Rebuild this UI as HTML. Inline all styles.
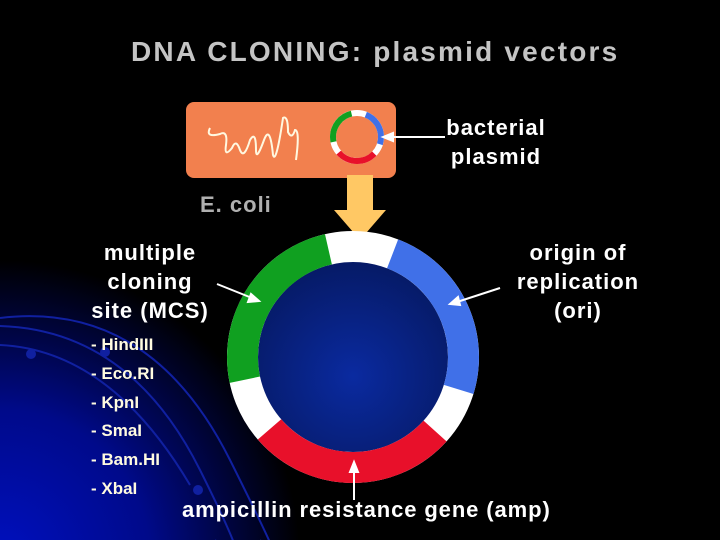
<!DOCTYPE html>
<html><head><style>
body{margin:0;background:#000;}
#c{position:relative;width:720px;height:540px;overflow:hidden;background:#000;font-family:"Liberation Sans",sans-serif;font-weight:bold;}
.t{position:absolute;white-space:nowrap;}
</style></head><body><div id="c">
<svg width="720" height="540" style="position:absolute;left:0;top:0">
<defs>
<radialGradient id="bg" cx="0" cy="560" r="300" gradientUnits="userSpaceOnUse">
<stop offset="0" stop-color="#0010c0"/><stop offset="0.5" stop-color="#000a8a"/><stop offset="1" stop-color="#000"/>
</radialGradient>
<radialGradient id="ic" cx="0.5" cy="0.6" r="0.6">
<stop offset="0" stop-color="#0a2aa0"/><stop offset="1" stop-color="#061a66"/>
</radialGradient>
</defs>
<rect width="720" height="540" fill="url(#bg)"/>
<g fill="none" stroke="#1020a0" stroke-width="2">
<path d="M0 318 Q150 300 230 460 T260 540"/>
<path d="M0 326 Q130 330 200 470 T215 540"/>
<path d="M0 345 Q110 350 190 485"/>
</g>
<g fill="#1020a0"><circle cx="31" cy="354" r="5"/><circle cx="105" cy="352" r="5"/><circle cx="198" cy="490" r="5"/></g>
<rect x="186" y="102" width="210" height="76" rx="8" fill="#f2804e"/>
<path d="M210 128 Q205 138 220 134 Q228 130 226 145 Q224 158 232 148 Q236 138 240 150 Q244 160 250 140 Q256 130 256 150 Q256 162 264 140 Q270 124 273 155 Q276 165 283 118 Q288 115 288 132 Q292 140 295 130 Q300 130 296 160" fill="none" stroke="#fff8e0" stroke-width="2"/>
<g transform="rotate(-90 357 137)" fill="none" stroke-width="6">
<circle cx="357" cy="137" r="24" stroke="#fff"/>
<circle cx="357" cy="137" r="24" stroke="#4070e8" stroke-dasharray="36 200" stroke-dashoffset="-9"/>
<circle cx="357" cy="137" r="24" stroke="#e8102a" stroke-dasharray="40 200" stroke-dashoffset="-56"/>
<circle cx="357" cy="137" r="24" stroke="#10a020" stroke-dasharray="37 200" stroke-dashoffset="-108"/>
</g>
<path d="M347 175 H373 V210 H386 L360 240 L334 210 H347 Z" fill="#ffc864"/>
<circle cx="353" cy="357" r="96" fill="url(#ic)"/>
<g transform="rotate(-90 353 357)" fill="none" stroke-width="31">
<circle cx="353" cy="357" r="110.5" stroke="#fff"/>
<circle cx="353" cy="357" r="110.5" stroke="#4070e8" stroke-dasharray="165.9 700" stroke-dashoffset="-40.5"/>
<circle cx="353" cy="357" r="110.5" stroke="#e8102a" stroke-dasharray="187 700" stroke-dashoffset="-254.6"/>
<circle cx="353" cy="357" r="110.5" stroke="#10a020" stroke-dasharray="171.6 700" stroke-dashoffset="-497.6"/>
</g>
<g stroke="#fff" stroke-width="2" fill="#fff">
<line x1="445" y1="137" x2="390" y2="137"/><path d="M383 137 L393 133 L393 141Z"/>
<line x1="217" y1="284" x2="252" y2="298"/><path d="M259 301 L248 302 L251 294Z"/>
<line x1="500" y1="288" x2="457" y2="302"/><path d="M450 304 L458 297 L460 305Z"/>
<line x1="354" y1="500" x2="354" y2="470"/><path d="M354 462 L350 472 L358 472Z"/>
</g>
</svg>
<div class="t" style="left:131px;top:36px;font-size:28px;color:#c4c4c4;letter-spacing:2.2px;">DNA CLONING: plasmid vectors</div>
<div class="t" style="left:436px;top:113px;width:120px;font-size:22px;color:#fff;line-height:29px;text-align:center;letter-spacing:1px;">bacterial<br>plasmid</div>
<div class="t" style="left:200px;top:192px;font-size:22px;color:#b0b0b0;letter-spacing:1px;">E. coli</div>
<div class="t" style="left:80px;top:238px;width:140px;font-size:22px;color:#fff;line-height:29px;text-align:center;letter-spacing:1px;">multiple<br>cloning<br>site (MCS)</div>
<div class="t" style="left:508px;top:238px;width:140px;font-size:22px;color:#fff;line-height:29px;text-align:center;letter-spacing:1px;">origin of<br>replication<br>(ori)</div>
<div class="t" style="left:91px;top:331px;font-size:17px;color:#fffbe0;line-height:28.8px;">- HindIII<br>- Eco.RI<br>- KpnI<br>- SmaI<br>- Bam.HI<br>- XbaI</div>
<div class="t" style="left:182px;top:497px;font-size:22px;color:#fff;letter-spacing:0.9px;">ampicillin resistance gene (amp)</div>
</div></body></html>
